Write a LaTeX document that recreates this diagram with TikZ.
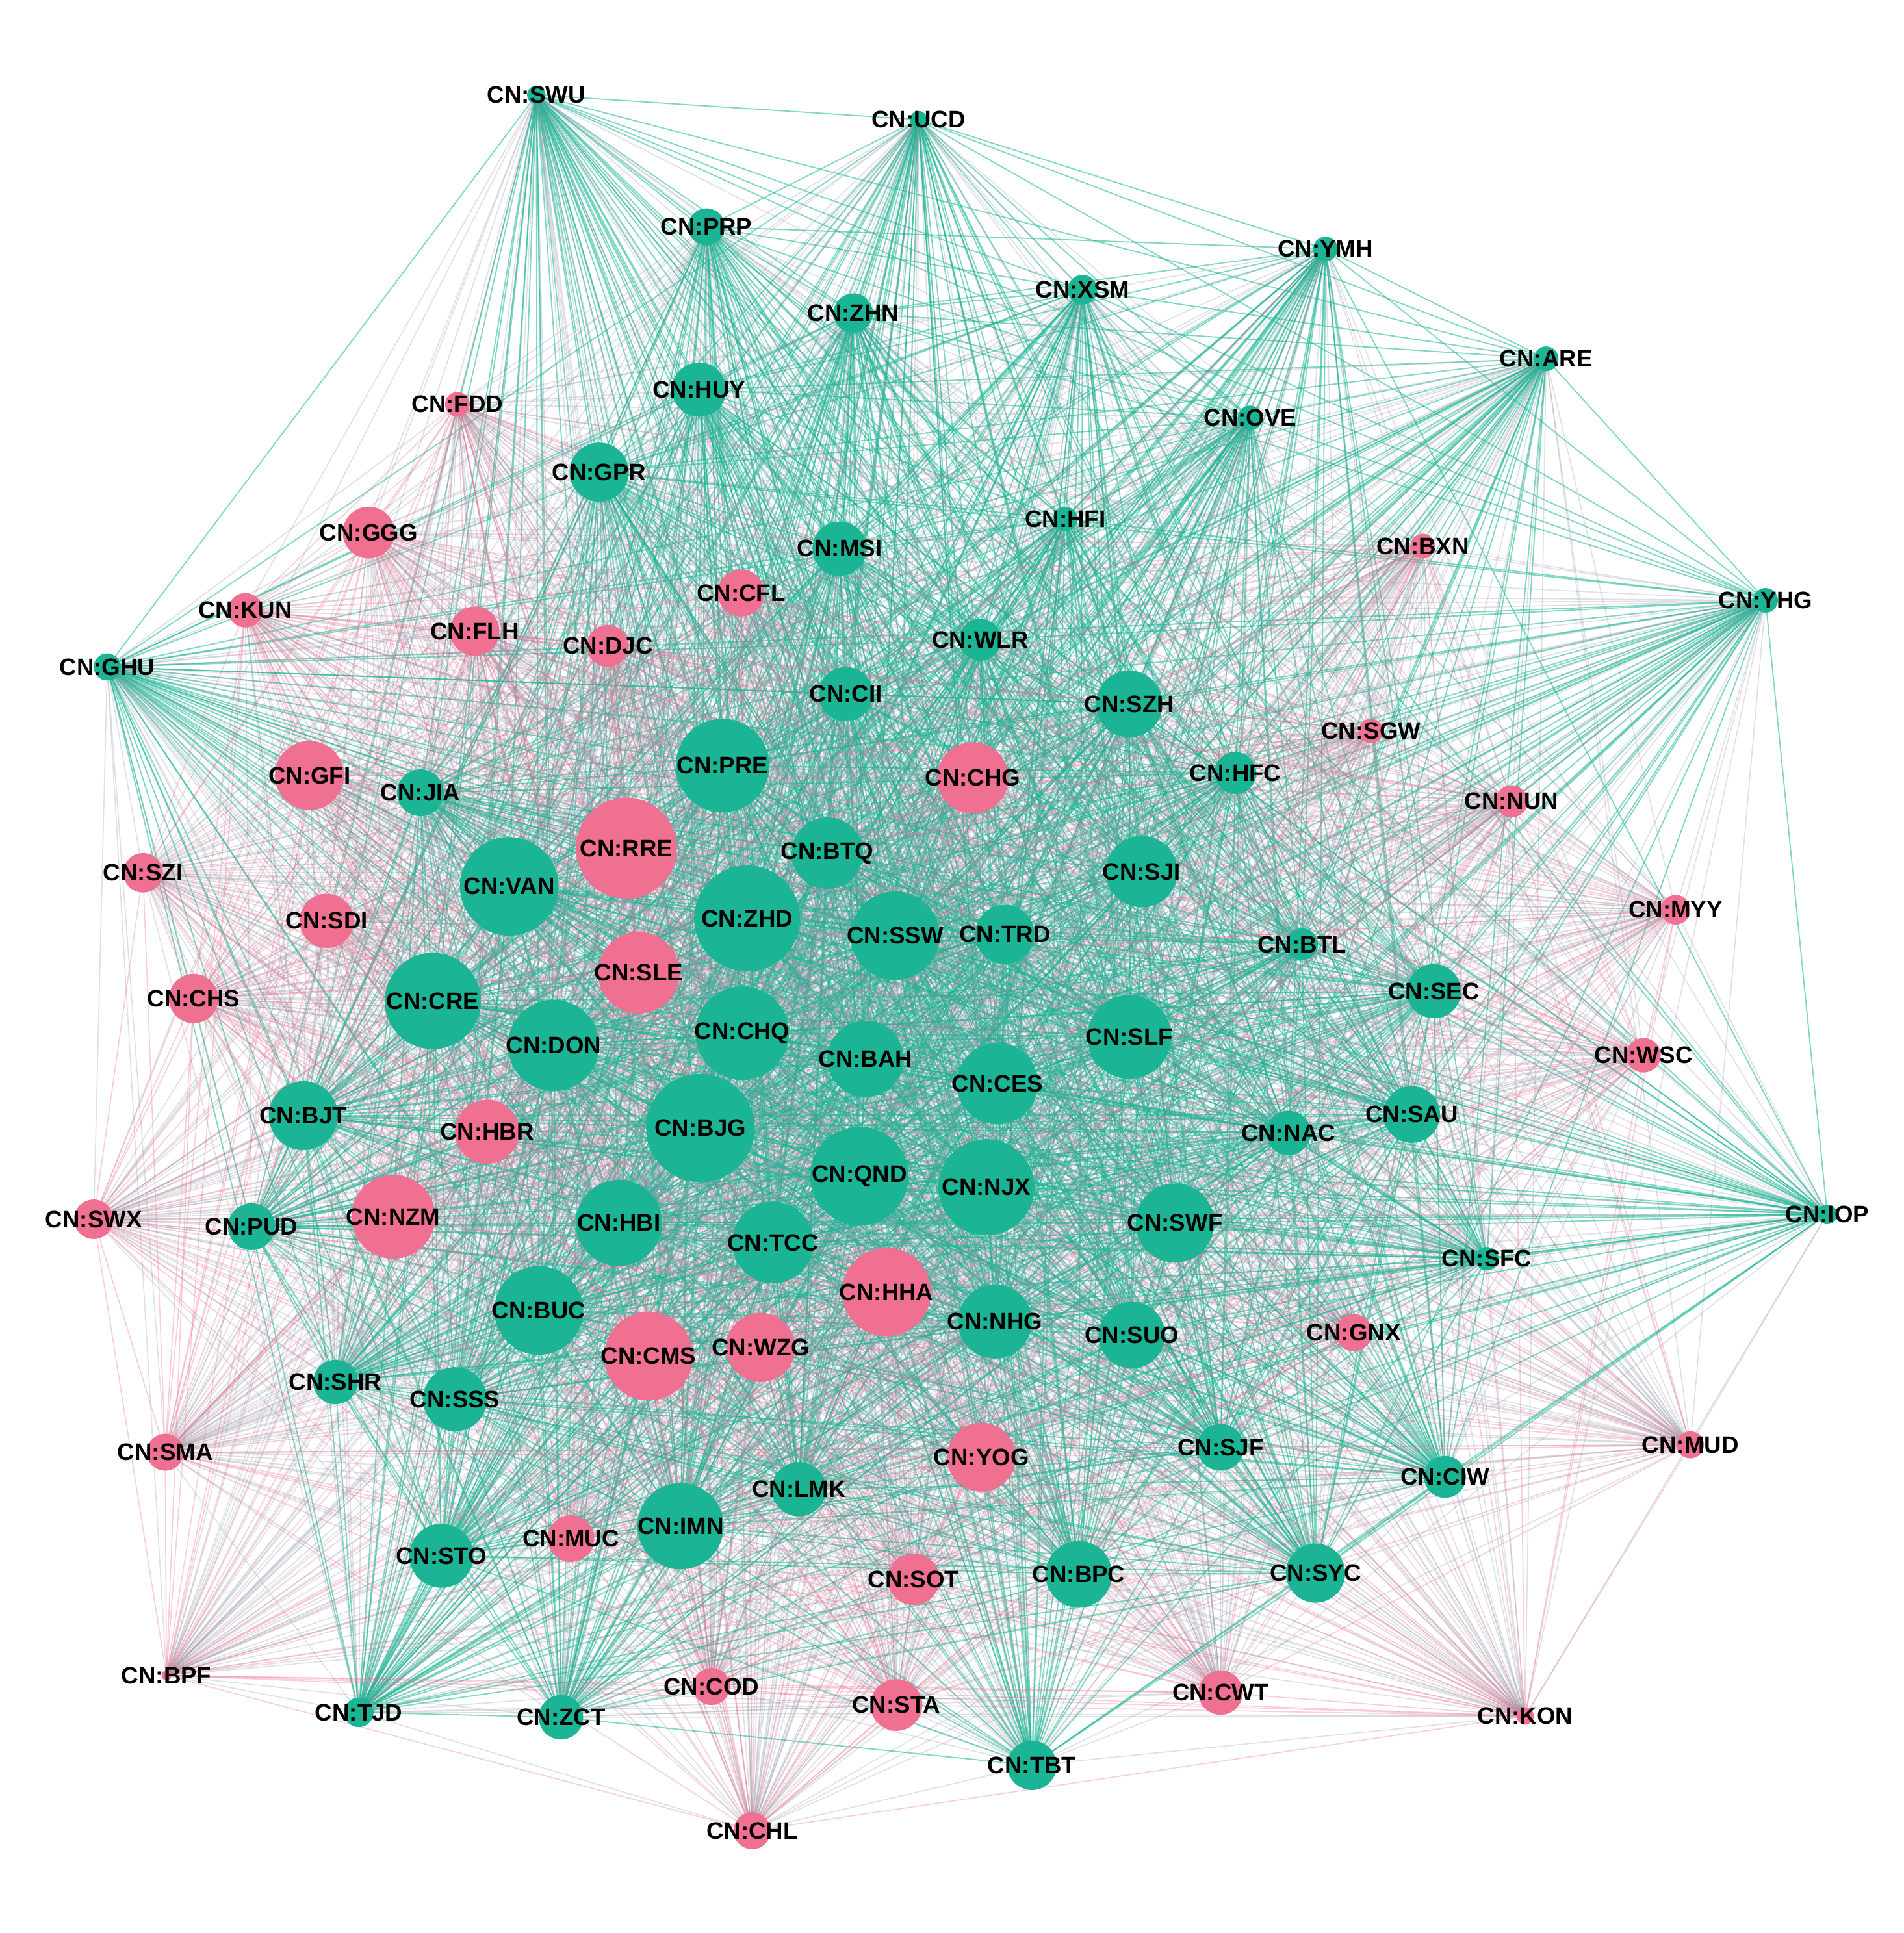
\documentclass[tikz,border=0pt]{standalone}
\usepackage{fontspec}
\setmainfont{Liberation Sans}
\definecolor{colT}{RGB}{27,180,148}
\definecolor{colP}{RGB}{240,112,145}
\definecolor{colM}{RGB}{150,152,168}
\pgfdeclarelayer{bg}
\pgfsetlayers{bg,main}
\tikzset{
  vtx/.style={circle,inner sep=0pt,draw=none},
  v0/.style={vtx,fill=colT},
  v1/.style={vtx,fill=colP},
  lbl/.style={font=\bfseries\fontsize{5.5}{6}\selectfont,inner sep=0pt,text=black},
  e0/.style={draw=colT,line width=0.28pt,opacity=0.55},
  e1/.style={draw=colM,line width=0.25pt,opacity=0.3},
  e2/.style={draw=colP,line width=0.25pt,opacity=0.35}
}
\def\nodelist{1/435/77/7.5/0/SWU,2/745/97/7/0/UCD,3/573/184/15/0/PRP,4/1075/202/10/0/YMH,5/878/235/12/0/XSM,6/692/254/16/0/ZHN,7/1254/291/10/0/ARE,8/567/316/22/0/HUY,9/371/328/10/1/FDD,10/1014/339/10/0/OVE,11/486/383/24/0/GPR,12/864/421/10/0/HFI,13/681/445/22/0/MSI,14/299/432/21/1/GGG,15/1154/443/10/1/BXN,16/601/481/19/1/CFL,17/1432/487/10/0/YHG,18/199/495/14/1/KUN,19/385/512/20/1/FLH,20/493/524/17/1/DJC,21/795/519/17/0/WLR,22/87/541/11/0/GHU,23/686/563/22/0/CII,24/916/571/27/0/SZH,25/1112/593/10/1/SGW,26/586/621/38/0/PRE,27/789/631/29/1/CHG,28/251/629/28/1/GFI,29/341/643/19/0/JIA,30/1002/627/17/0/HFC,31/1226/650/13/1/NUN,32/508/688/41/1/RRE,33/671/692/29/0/BTQ,34/116/708/16/1/SZI,35/926/707/29/0/SJI,36/413/719/40/0/VAN,37/1359/738/12/1/MYY,38/265/747/22/1/SDI,39/606/745/43/0/ZHD,40/726/759/36/0/SSW,41/815/758/24/0/TRD,42/1056/766/13/0/BTL,43/518/789/33/1/SLE,44/1163/804/22/0/SEC,45/157/810/20/1/CHS,46/351/812/39/0/CRE,47/602/838/38/0/CHQ,48/916/841/34/0/SLF,49/449/848/37/0/DON,50/1333/856/14/1/WSC,51/702/859/31/0/BAH,52/809/879/33/0/CES,53/246/905/28/0/BJT,54/1145/904/23/0/SAU,55/568/915/44/0/BJG,56/395/918/26/1/HBR,57/1045/919/18/0/NAC,58/697/954/40/0/QND,59/800/963/39/0/NJX,60/76/989/16/1/SWX,61/1482/985/8/0/IOP,62/204/995/19/0/PUD,63/319/987/34/1/NZM,64/502/992/35/0/HBI,65/953/992/32/0/SWF,66/627/1008/33/0/TCC,67/1206/1021/9.5/0/SFC,68/719/1048/36/1/HHA,69/437/1063/36/0/BUC,70/807/1072/30/0/NHG,71/918/1083/27/0/SUO,72/1098/1081/15/1/GNX,73/526/1100/36/1/CMS,74/617/1093/28/1/WZG,75/272/1121/18/0/SHR,76/369/1135/26/0/SSS,77/134/1178/15/1/SMA,78/1371/1172/11/1/MUD,79/990/1174/19/0/SJF,80/796/1182/28/1/YOG,81/1172/1198/17/0/CIW,82/648/1208/22/0/LMK,83/552/1238/35/0/IMN,84/463/1248/19/1/MUC,85/358/1262/26/0/STO,86/741/1281/21/1/SOT,87/875/1277/27/0/BPC,88/1067/1276/24/0/SYC,89/135/1359/4/1/BPF,90/577/1368/15/1/COD,91/291/1389/12/0/TJD,92/455/1393/18/0/ZCT,93/727/1383/21/1/STA,94/990/1373/18/1/CWT,95/1237/1392/7/1/KON,96/837/1432/20/0/TBT,97/610/1485/15/1/CHL}
\begin{document}
\begin{tikzpicture}[x=0.1mm,y=-0.1mm]
\useasboundingbox (0,0) rectangle (1544,1568);
\foreach \i/\x/\y/\r/\c/\t in \nodelist {
  \node[v\c,minimum size=\r*0.2mm] (n\i) at (\x,\y) {};
  \expandafter\xdef\csname cc\i\endcsname{\c}
}
\foreach \i/\x/\y/\r/\c/\t in \nodelist {
  \node[lbl] (l\i) at (n\i) {CN:\t};
}
\pgfmathsetseed{7}
\begin{pgfonlayer}{bg}
\foreach \i in {1,...,97}{
  \foreach \j in {1,...,97}{
    \ifnum\j>\i\relax
      \pgfmathrandominteger{\rr}{1}{100}
      \ifnum\rr<86\relax
        \pgfmathtruncatemacro{\s}{\csname cc\i\endcsname+\csname cc\j\endcsname}
        \draw[e\s] (n\i.center) -- (n\j.center);
      \fi
    \fi
  }
}
\end{pgfonlayer}
\end{tikzpicture}
\end{document}
